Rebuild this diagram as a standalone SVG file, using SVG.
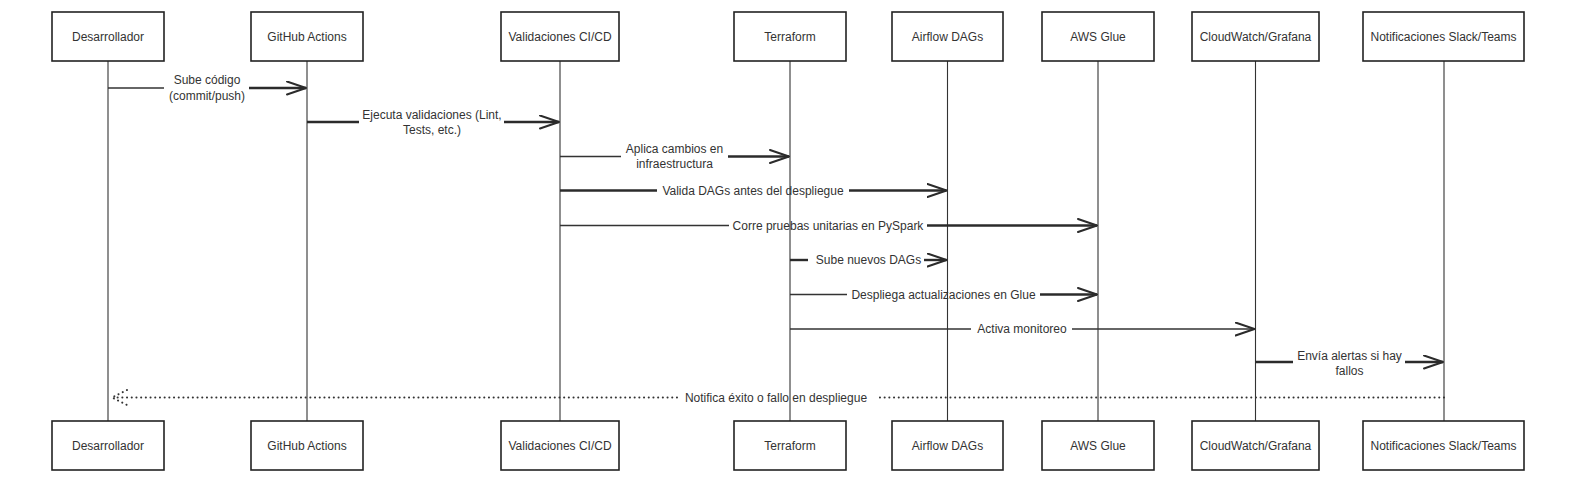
<svg xmlns="http://www.w3.org/2000/svg" width="1579" height="484" viewBox="0 0 1579 484">
<defs>
<style>
.box{fill:#fff;stroke:#222;stroke-width:1.6}
.lbl{font-family:"Liberation Sans",Arial,sans-serif;font-size:12px;fill:#333;text-anchor:middle}
.life{stroke:#333;stroke-width:1.1;fill:none}
.thin{stroke:#333;stroke-width:1.4;fill:none}
.thick{stroke:#2b2b2b;stroke-width:2.4;fill:none}
.head{stroke:#2b2b2b;stroke-width:2;fill:none;stroke-linecap:round;stroke-linejoin:round}
.dot{stroke:#333;stroke-width:2;fill:none;stroke-dasharray:0.1 4.6;stroke-linecap:round}
</style>
<marker id="arr" viewBox="0 0 21 15" refX="20" refY="7.5" markerWidth="21" markerHeight="15" markerUnits="userSpaceOnUse" orient="auto">
<path class="head" d="M1,1 L20,7.5 L1,14"/>
</marker>
</defs>
<rect width="1579" height="484" fill="#fff"/>

<g id="lifelines">
<line class="life" x1="108" y1="61" x2="108" y2="421"/>
<line class="life" x1="307" y1="61" x2="307" y2="421"/>
<line class="life" x1="560" y1="61" x2="560" y2="421"/>
<line class="life" x1="790" y1="61" x2="790" y2="421"/>
<line class="life" x1="947.5" y1="61" x2="947.5" y2="421"/>
<line class="life" x1="1098" y1="61" x2="1098" y2="421"/>
<line class="life" x1="1255.5" y1="61" x2="1255.5" y2="421"/>
<line class="life" x1="1444" y1="61" x2="1444" y2="421"/>
</g>

<g id="node-desarrollador">
<rect class="box" x="52" y="12" width="112" height="49"/>
<text class="lbl" x="108" y="40.8">Desarrollador</text>
<rect class="box" x="52" y="421" width="112" height="49"/>
<text class="lbl" x="108" y="449.8">Desarrollador</text>
</g>
<g id="node-github">
<rect class="box" x="251" y="12" width="112" height="49"/>
<text class="lbl" x="307" y="40.8">GitHub Actions</text>
<rect class="box" x="251" y="421" width="112" height="49"/>
<text class="lbl" x="307" y="449.8">GitHub Actions</text>
</g>
<g id="node-validaciones">
<rect class="box" x="501" y="12" width="118" height="49"/>
<text class="lbl" x="560" y="40.8">Validaciones CI/CD</text>
<rect class="box" x="501" y="421" width="118" height="49"/>
<text class="lbl" x="560" y="449.8">Validaciones CI/CD</text>
</g>
<g id="node-terraform">
<rect class="box" x="734" y="12" width="112" height="49"/>
<text class="lbl" x="790" y="40.8">Terraform</text>
<rect class="box" x="734" y="421" width="112" height="49"/>
<text class="lbl" x="790" y="449.8">Terraform</text>
</g>
<g id="node-airflow">
<rect class="box" x="892" y="12" width="111" height="49"/>
<text class="lbl" x="947.5" y="40.8">Airflow DAGs</text>
<rect class="box" x="892" y="421" width="111" height="49"/>
<text class="lbl" x="947.5" y="449.8">Airflow DAGs</text>
</g>
<g id="node-glue">
<rect class="box" x="1042" y="12" width="112" height="49"/>
<text class="lbl" x="1098" y="40.8">AWS Glue</text>
<rect class="box" x="1042" y="421" width="112" height="49"/>
<text class="lbl" x="1098" y="449.8">AWS Glue</text>
</g>
<g id="node-cloudwatch">
<rect class="box" x="1192" y="12" width="127" height="49"/>
<text class="lbl" x="1255.5" y="40.8">CloudWatch/Grafana</text>
<rect class="box" x="1192" y="421" width="127" height="49"/>
<text class="lbl" x="1255.5" y="449.8">CloudWatch/Grafana</text>
</g>
<g id="node-notificaciones">
<rect class="box" x="1363" y="12" width="161" height="49"/>
<text class="lbl" x="1443.5" y="40.8">Notificaciones Slack/Teams</text>
<rect class="box" x="1363" y="421" width="161" height="49"/>
<text class="lbl" x="1443.5" y="449.8">Notificaciones Slack/Teams</text>
</g>

<g id="connectors">
<g id="m1">
<line class="thin" x1="108" y1="88" x2="164" y2="88"/>
<line class="thick" x1="249" y1="88" x2="306" y2="88" marker-end="url(#arr)"/>
<text class="lbl" x="207" y="83.6">Sube código</text>
<text class="lbl" x="207" y="100">(commit/push)</text>
</g>
<g id="m2">
<line class="thick" x1="307" y1="122" x2="359" y2="122"/>
<line class="thick" x1="504" y1="122" x2="559" y2="122" marker-end="url(#arr)"/>
<text class="lbl" x="432" y="118.5">Ejecuta validaciones (Lint,</text>
<text class="lbl" x="432" y="134.3">Tests, etc.)</text>
</g>
<g id="m3">
<line class="thin" x1="560" y1="156.5" x2="621" y2="156.5"/>
<line class="thick" x1="728" y1="156.5" x2="789" y2="156.5" marker-end="url(#arr)"/>
<text class="lbl" x="674.5" y="152.6">Aplica cambios en</text>
<text class="lbl" x="674.5" y="168.3">infraestructura</text>
</g>
<g id="m4">
<line class="thick" x1="560" y1="190.5" x2="657" y2="190.5"/>
<line class="thick" x1="849" y1="190.5" x2="946.5" y2="190.5" marker-end="url(#arr)"/>
<text class="lbl" x="753" y="194.8">Valida DAGs antes del despliegue</text>
</g>
<g id="m5">
<line class="thin" x1="560" y1="225.5" x2="729" y2="225.5"/>
<line class="thick" x1="927" y1="225.5" x2="1097" y2="225.5" marker-end="url(#arr)"/>
<text class="lbl" x="828" y="229.8">Corre pruebas unitarias en PySpark</text>
</g>
<g id="m6">
<line class="thick" x1="790" y1="260" x2="808" y2="260"/>
<line class="thick" x1="924" y1="260" x2="946.5" y2="260" marker-end="url(#arr)"/>
<text class="lbl" x="868.5" y="264.3">Sube nuevos DAGs</text>
</g>
<g id="m7">
<line class="thin" x1="790" y1="294.5" x2="847" y2="294.5"/>
<line class="thick" x1="1040" y1="294.5" x2="1097" y2="294.5" marker-end="url(#arr)"/>
<text class="lbl" x="943.5" y="298.8">Despliega actualizaciones en Glue</text>
</g>
<g id="m8">
<line class="thin" x1="790" y1="329" x2="971" y2="329"/>
<line class="thin" x1="1072" y1="329" x2="1254.5" y2="329" marker-end="url(#arr)"/>
<text class="lbl" x="1022" y="333.3">Activa monitoreo</text>
</g>
<g id="m9">
<line class="thick" x1="1255.5" y1="362" x2="1293" y2="362"/>
<line class="thick" x1="1405" y1="362" x2="1443" y2="362" marker-end="url(#arr)"/>
<text class="lbl" x="1349.5" y="359.9">Envía alertas si hay</text>
<text class="lbl" x="1349.5" y="375.3">fallos</text>
</g>
<g id="m10">
<line class="dot" x1="1444" y1="397.5" x2="878" y2="397.5"/>
<line class="dot" x1="677" y1="397.5" x2="114" y2="397.5"/>
<path class="dot" d="M127,390 L112,397.5 L127,405"/>
<text class="lbl" x="776" y="401.8">Notifica éxito o fallo en despliegue</text>
</g>
</g>
</svg>
